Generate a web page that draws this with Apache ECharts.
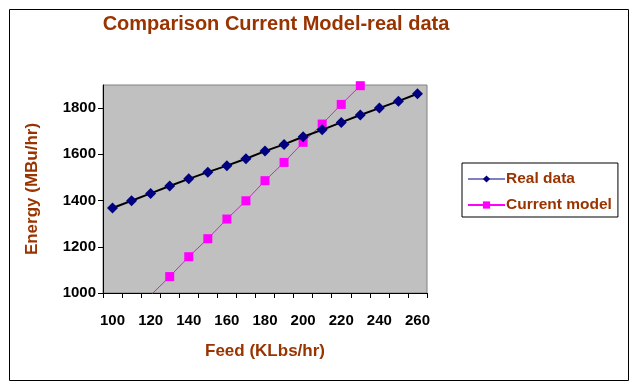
<!DOCTYPE html>
<html>
<head>
<meta charset="utf-8">
<script src="https://cdn.jsdelivr.net/npm/echarts@6/dist/echarts.min.js"></script>
<style>
html,body{margin:0;padding:0;background:#fff;}
#c{width:634px;height:386px;}
</style>
</head>
<body>
<div id="c"></div>
<script>
const categories = ['100','110','120','130','140','150','160','170','180','190','200','210','220','230','240','250','260'];
const realData = [1368,1399,1431,1463,1494,1523,1551,1581,1614,1643,1676,1706,1738,1770,1800,1830,1862];
const currentModel = ['-','-',990,1071,1157,1235,1320,1399,1486,1565,1652,1731,1816,1897,1978,'-','-'];
const seriesNames = ['Real data','Current model'];
const titleText = 'Comparison Current Model-real data';
const xName = 'Feed (KLbs/hr)';
const yName = 'Energy (MBu/hr)';

const brown = '#993300';
const font = 'Liberation Sans, Arial';
const chart = echarts.init(document.getElementById('c'));
chart.setOption({
  animation: false,
  backgroundColor: '#fff',
  graphic: [{
    type: 'rect', left: 7, top: 7, silent: true,
    shape: {width: 619, height: 371},
    style: {fill: 'none', stroke: '#000', lineWidth: 1}
  }],
  title: {
    text: titleText,
    left: 271, top: 9, textAlign: 'center',
    textStyle: {fontFamily: font, fontSize: 20, fontWeight: 'bold', color: brown}
  },
  legend: {
    orient: 'vertical',
    left: 462, top: 163,
    padding: [8, 6, 4, 5],
    itemGap: 10,
    itemWidth: 37, itemHeight: 9,
    borderColor: '#000', borderWidth: 1,
    textStyle: {fontFamily: font, fontSize: 15.5, fontWeight: 'bold', color: brown, padding: [0, 0, 0, -4]},
    data: [
      {name: seriesNames[0], lineStyle: {color: '#000080', width: 1}},
      {name: seriesNames[1]}
    ]
  },
  grid: {
    left: 103, top: 85, right: 207, bottom: 93,
    show: true, backgroundColor: '#C0C0C0', borderColor: '#808080', borderWidth: 1
  },
  xAxis: {
    type: 'category',
    data: categories,
    boundaryGap: true,
    name: xName, nameLocation: 'middle', nameGap: 50,
    nameTextStyle: {fontFamily: font, fontSize: 17, fontWeight: 'bold', color: brown},
    axisLine: {lineStyle: {color: '#000', width: 1}},
    axisTick: {show: true, interval: 0, length: 5, lineStyle: {color: '#000'}},
    axisLabel: {interval: 1, margin: 20, fontFamily: font, fontSize: 15, fontWeight: 'bold', color: '#000'},
    splitLine: {show: false}
  },
  yAxis: {
    type: 'value',
    min: 1000, max: 1900, interval: 200,
    name: yName, nameLocation: 'middle', nameGap: 62, nameRotate: 90,
    nameTextStyle: {fontFamily: font, fontSize: 17, fontWeight: 'bold', color: brown},
    axisLine: {show: true, lineStyle: {color: '#000', width: 1}},
    axisTick: {show: true, length: 5, lineStyle: {color: '#000'}},
    axisLabel: {margin: 7, showMaxLabel: false, fontFamily: font, fontSize: 15, fontWeight: 'bold', color: '#000',
      formatter: v => (v % 200 === 0 ? String(v) : '')},
    splitLine: {show: false}
  },
  series: [
    {
      name: seriesNames[0], type: 'line', data: realData,
      symbol: 'diamond', symbolSize: 11,
      itemStyle: {color: '#000080'},
      lineStyle: {color: '#000', width: 2},
      z: 3
    },
    {
      name: seriesNames[1], type: 'line', data: currentModel,
      symbol: 'rect', symbolSize: 9, clip: true,
      itemStyle: {color: '#FF00FF'},
      lineStyle: {color: '#FF00FF', width: 1},
      z: 2
    }
  ]
});
</script>
</body>
</html>
